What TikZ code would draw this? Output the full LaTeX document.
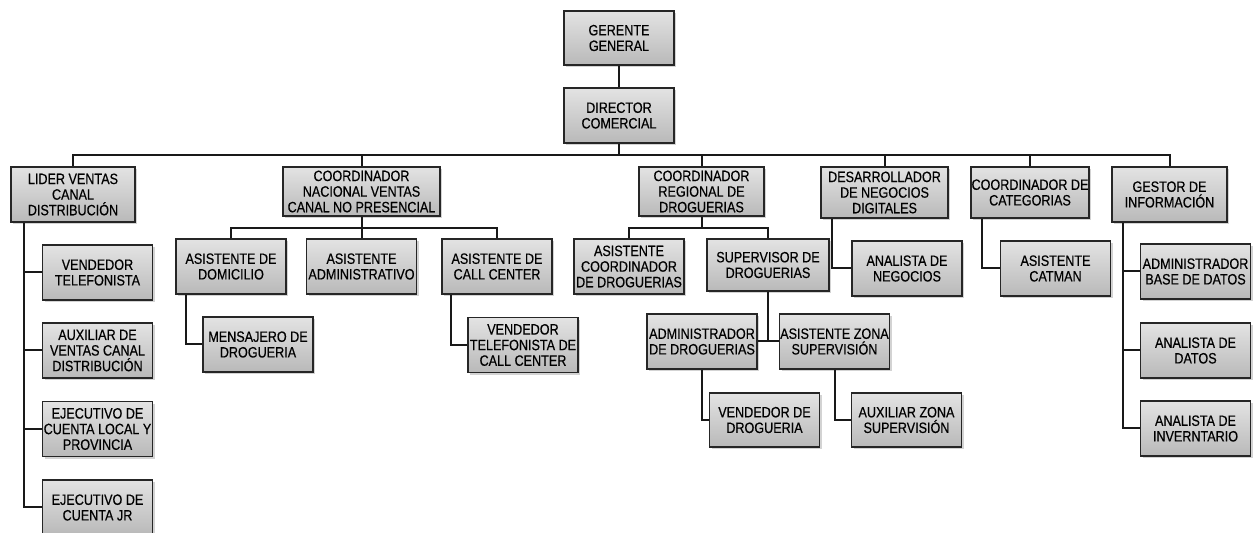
\documentclass[tikz,border=0pt]{standalone}
\usepackage{fontspec}
\setmainfont{Liberation Sans}[FakeStretch=0.84, FakeBold=0.4]
\usetikzlibrary{shadows}

\tikzset{
	cargo/.style={draw=black!85, line width=0.6pt, top color=gray!22, middle color=white, bottom color=gray!55,
		drop shadow={opacity=0.35, shadow xshift=1pt, shadow yshift=-1.2pt},
		align=center, inner sep=0pt, minimum width=55pt, minimum height=27.5pt,
		font=\fontsize{7.5}{7.8}\selectfont},
	enlace/.style={draw=black!90, line width=1pt}
}

\begin{document}
\begin{tikzpicture}[x=0.5pt, y=-0.5pt]
						\useasboundingbox (0,0) rectangle (1253,533);
						
						% Top of the chart
						\node[cargo, minimum height=27pt] (gg) at (619,38) {GERENTE\\GENERAL};
						\node[cargo] (dc) at (619,115.5) {DIRECTOR\\COMERCIAL};
						
						% Second level, hanging from the main bus
						\node[cargo, minimum width=62pt] (lider) at (73,194.5) {LIDER VENTAS\\CANAL\\DISTRIBUCIÓN};
						\node[cargo, minimum width=78.5pt, minimum height=24.5pt] (cnac) at (361.5,191.5) {COORDINADOR\\NACIONAL VENTAS\\CANAL NO PRESENCIAL};
						\node[cargo, minimum width=62.5pt, minimum height=24.5pt] (creg) at (701.5,191.5) {COORDINADOR\\REGIONAL DE\\DROGUERIAS};
						\node[cargo, minimum width=63.5pt, minimum height=25.5pt] (desa) at (884.5,192.5) {DESARROLLADOR\\DE NEGOCIOS\\DIGITALES};
						\node[cargo, minimum width=59pt, minimum height=25.5pt] (ccat) at (1030,192.5) {COORDINADOR DE\\CATEGORIAS};
						\node[cargo, minimum width=57.5pt] (gest) at (1169.5,194.5) {GESTOR DE\\INFORMACIÓN};
						
						% Under lider ventas
						\node[cargo] (vt) at (97.5,272.5) {VENDEDOR\\TELEFONISTA};
						\node[cargo] (avc) at (97.5,350.5) {AUXILIAR DE\\VENTAS CANAL\\DISTRIBUCIÓN};
						\node[cargo] (ecl) at (97.5,429) {EJECUTIVO DE\\CUENTA LOCAL Y\\PROVINCIA};
						\node[cargo] (ejr) at (97.5,507.5) {EJECUTIVO DE\\CUENTA JR};
						
						% Under coordinador nacional
						\node[cargo] (adom) at (231,266.5) {ASISTENTE DE\\DOMICILIO};
						\node[cargo] (aadm) at (361.5,266.5) {ASISTENTE\\ADMINISTRATIVO};
						\node[cargo] (acc) at (497,266.5) {ASISTENTE DE\\CALL CENTER};
						\node[cargo] (mens) at (258,344.5) {MENSAJERO DE\\DROGUERIA};
						\node[cargo] (vtcc) at (523,345) {VENDEDOR\\TELEFONISTA DE\\CALL CENTER};
						
						% Under coordinador regional
						\node[cargo] (acd) at (629,266.5) {ASISTENTE\\COORDINADOR\\DE DROGUERIAS};
						\node[cargo, minimum width=61pt, minimum height=26pt] (sup) at (768,265) {SUPERVISOR DE\\DROGUERIAS};
						\node[cargo] (admd) at (702,341.5) {ADMINISTRADOR\\DE DROGUERIAS};
						\node[cargo] (azs) at (834.5,341.5) {ASISTENTE ZONA\\SUPERVISIÓN};
						\node[cargo, minimum height=27pt] (vdd) at (764.5,420) {VENDEDOR DE\\DROGUERIA};
						\node[cargo, minimum height=27pt] (auxz) at (906.5,420) {AUXILIAR ZONA\\SUPERVISIÓN};
						
						% Under desarrollador and categorias
						\node[cargo] (anneg) at (907,268.5) {ANALISTA DE\\NEGOCIOS};
						\node[cargo] (acat) at (1055.5,268.5) {ASISTENTE\\CATMAN};
						
						% Under gestor de informacion
						\node[cargo] (abd) at (1195.5,271.5) {ADMINISTRADOR\\BASE DE DATOS};
						\node[cargo] (adat) at (1195.5,350.5) {ANALISTA DE\\DATOS};
						\node[cargo] (ainv) at (1195.5,428.5) {ANALISTA DE\\INVERNTARIO};
						
						% Bus lines
						\coordinate (bus) at (0,155);
						\coordinate (bus2) at (0,228);
						\coordinate (lidx) at (24,0);
						\coordinate (gesx) at (1123,0);
						
						% Connect top and second level
						\draw[enlace] (gg) -- (dc);
						\draw[enlace] (dc.south) -- (dc.south |- bus);
						\draw[enlace] (lider.north) |- (gest.north |- bus) -- (gest.north);
						\foreach \n in {cnac,creg,desa,ccat}
						\draw[enlace] (\n.north) -- (\n.north |- bus);
						
						% Lider ventas branch
						\draw[enlace] (lider.south -| lidx) |- (ejr.west);
						\foreach \n in {vt,avc,ecl}
						\draw[enlace] (\n.west) -- (\n.west -| lidx);
						
						% Coordinador nacional branch
						\draw[enlace] (cnac.south) -- (aadm.north);
						\draw[enlace] (adom.north) |- (acc.north |- bus2) -- (acc.north);
						\draw[enlace] ([xshift=5.5pt]adom.south west) |- (mens.west);
						\draw[enlace] ([xshift=5pt]acc.south west) |- (vtcc.west);
						
						% Coordinador regional branch
						\draw[enlace] (creg.south) -- (creg.south |- bus2);
						\draw[enlace] (acd.north) |- (sup.north |- bus2) -- (sup.north);
						\draw[enlace] (sup.south) -- (sup.south |- admd.east);
						\draw[enlace] (admd.east) -- (azs.west);
						\draw[enlace] (admd.south) |- (vdd.west);
						\draw[enlace] (azs.south) |- (auxz.west);
						
						% Desarrollador and categorias
						\draw[enlace] ([xshift=6pt]desa.south west) |- (anneg.west);
						\draw[enlace] ([xshift=6pt]ccat.south west) |- (acat.west);
						
						% Gestor de informacion branch
						\draw[enlace] (gest.south -| gesx) |- (ainv.west);
						\foreach \n in {abd,adat}
						\draw[enlace] (\n.west) -- (\n.west -| gesx);
\end{tikzpicture}
\end{document}
